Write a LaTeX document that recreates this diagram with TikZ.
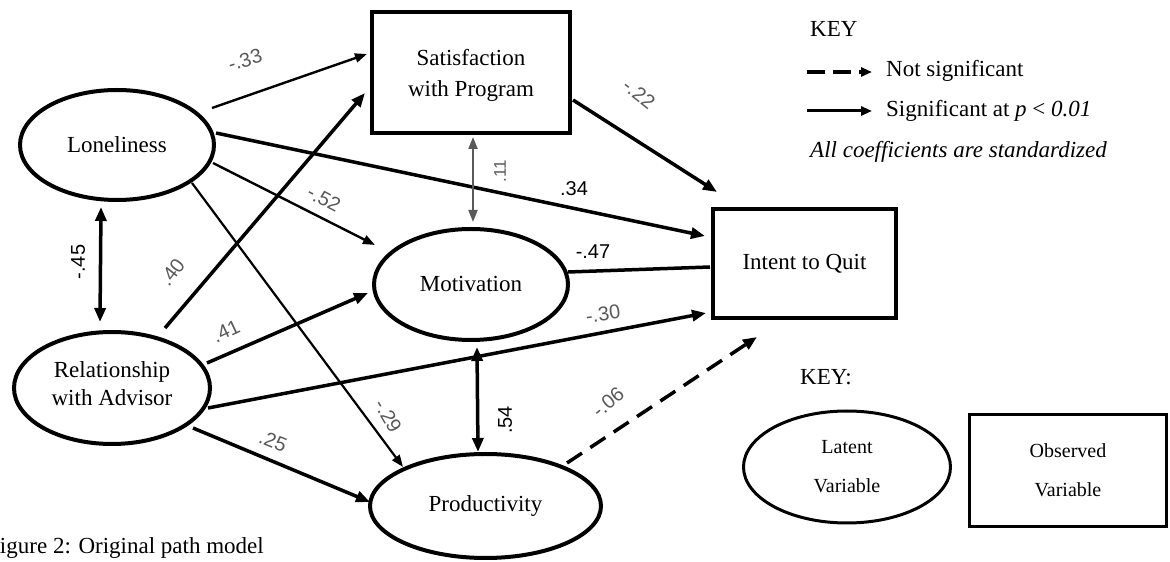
\documentclass[tikz,border=0pt]{standalone}
\usepackage{fontspec}
\setmainfont{Liberation Serif}
\newfontfamily\lblfont{Liberation Sans}
\usetikzlibrary{arrows.meta,calc,shapes.geometric}
\begin{document}
\begin{tikzpicture}[x=1pt,y=1pt,
  latent/.style={ellipse,draw,line width=4pt,inner sep=0pt,outer sep=0pt,align=center,font=\fontsize{23}{28}\selectfont},
  observed/.style={rectangle,draw,line width=4pt,inner sep=0pt,outer sep=0pt,align=center,font=\fontsize{23}{31}\selectfont},
  inner/.style={inner sep=0pt,align=center},
  tipbig/.tip={Triangle[length=14pt,width=11pt]},
  tipsmall/.tip={Triangle[length=12pt,width=9pt]},
  sigthick/.style={line width=3.5pt,-tipbig},
  sigthin/.style={line width=2.4pt,-tipsmall},
  corr/.style={line width=3.5pt,tipbig-tipbig},
  corrthin/.style={line width=2pt,draw=black!65,tipsmall-tipsmall},
  nonsig/.style={line width=3.5pt,dash pattern=on 18pt off 10pt,-tipbig},
  lbl/.style={font=\lblfont\fontsize{20}{24}\selectfont,text=black!65,inner sep=0pt},
  lblk/.style={font=\lblfont\fontsize{20}{24}\selectfont,text=black,inner sep=0pt},
  keytxt/.style={anchor=west,inner sep=0pt,font=\fontsize{23}{28}\selectfont},
]
\useasboundingbox (0,0) rectangle (1170,562);
% nodes
\node[latent,minimum width=194pt,minimum height=110pt] (lon) at (117,417) {Loneliness};
\node[latent,minimum width=196pt,minimum height=112pt,
  label={[inner,font=\fontsize{23}{28}\selectfont,yshift=4pt]center:Relationship\\with Advisor}] (rel) at (112,174) {};
\node[observed,minimum width=198pt,minimum height=121pt,
  label={[inner,font=\fontsize{23}{31}\selectfont,yshift=-3pt]center:Satisfaction\\with Program}] (sat) at (471,489.5) {};
\node[latent,minimum width=194pt,minimum height=111pt] (mot) at (471,277.5) {Motivation};
\node[latent,minimum width=231pt,minimum height=104pt] (pro) at (485.5,56) {Productivity};
\node[observed,minimum width=183pt,minimum height=109pt] (itq) at (804.5,298.5) {Intent to Quit};
% paths
\draw[sigthin]  ($(lon.center)+(95,37)$) -- ($(sat.center)+(-104,18.5)$);
\draw[sigthick] ($(rel.center)+(53,60)$) -- ($(sat.center)+(-106,-20.5)$);
\draw[sigthick] ($(lon.center)+(99,12)$) -- ($(itq.center)+(-99.5,27.5)$);
\draw[sigthin]  ($(lon.center)+(96,-18)$) -- ($(mot.center)+(-96,39.5)$);
\draw[sigthin,line width=2.2pt] ($(lon.center)+(75,-38)$) -- ($(pro.center)+(-82.5,39)$);
\draw[corrthin] ($(sat.center)+(2,-64.5)$) -- ($(mot.center)+(2,62.5)$);
\draw[corr]     ($(lon.center)+(-16,-62)$) -- ($(rel.center)+(-12,66)$);
\draw[sigthick] ($(rel.center)+(95,25)$) -- ($(mot.center)+(-103,-8.5)$);
\draw[sigthick] ($(rel.center)+(96,-20)$) -- ($(itq.center)+(-98.5,-49.5)$);
\draw[sigthick] ($(rel.center)+(81,-40)$) -- ($(pro.center)+(-115.5,4)$);
\draw[line width=3.5pt] ($(mot.center)+(97,12.5)$) -- ($(itq.center)+(-94.5,-3.5)$);
\draw[sigthick] ($(sat.center)+(102,-27.5)$) -- ($(itq.center)+(-87.5,71.5)$);
\draw[corr]     ($(mot.center)+(6,-62.5)$) -- ($(pro.center)+(-7.5,54)$);
\draw[nonsig]   ($(pro.center)+(81.5,43)$) -- ($(itq.center)+(-47.5,-73.5)$);
% coefficient labels
\node[lbl,rotate=17]  (l1)  at (245,502) {-.33};
\node[lbl,rotate=52]  (l2)  at (172,290) {.40};
\node[lbl,rotate=-28] (l3)  at (324,363) {-.52};
\node[lblk]           (l4)  at (574,373) {.34};
\node[lbl,rotate=-38] (l5)  at (639,468) {-.22};
\node[lbl,rotate=90,font=\lblfont\fontsize{17}{20}\selectfont] (l6) at (500,391) {.11};
\node[lblk]           (l7)  at (593,310) {-.47};
\node[lblk,rotate=90] (l8)  at (78,300) {-.45};
\node[lbl,rotate=25]  (l9)  at (226,231) {.41};
\node[lbl,rotate=8]   (l10) at (603,248) {-.30};
\node[lbl,rotate=-22] (l11) at (273,121) {.25};
\node[lbl,rotate=-60] (l12) at (388,146) {-.29};
\node[lblk,rotate=90] (l13) at (505,142) {.54};
\node[lbl,rotate=40]  (l14) at (608,160) {-.06};
% key (top)
\node[keytxt] (key1) at (810,533) {KEY};
\coordinate (ka1) at (807,490);
\coordinate (ka2) at (872,490);
\coordinate (kb1) at (807,451);
\coordinate (kb2) at (872,451);
\draw[line width=3.5pt,dash pattern=on 18pt off 8pt,-{Triangle[length=11pt,width=9pt]}] (ka1) -- (ka2);
\draw[line width=3pt,-{Triangle[length=11pt,width=9pt]}] (kb1) -- (kb2);
\node[keytxt] (kns) at (886,491) {Not significant};
\node[keytxt] (ksg) at (886,451) {Significant at \textit{p} < \textit{0.01}};
\node[keytxt] (kst) at (810,410) {\textit{All coefficients are standardized}};
% key (bottom)
\node[keytxt] (key2) at (800,185) {KEY:};
\node[ellipse,draw,line width=3pt,inner sep=0pt,minimum width=207pt,minimum height=112pt,align=center,font=\fontsize{20}{39}\selectfont] (klat) at (847,95) {Latent\\Variable};
\node[rectangle,draw,line width=3pt,inner sep=0pt,minimum width=197pt,minimum height=112pt,align=center,font=\fontsize{20}{39}\selectfont] (kobs) at (1068,91.5) {Observed\\Variable};
% caption
\node[anchor=west,inner sep=0pt,font=\fontsize{23}{28}\selectfont] (cap) at (-13,14) {Figure 2: Original path model};
\end{tikzpicture}
\end{document}
